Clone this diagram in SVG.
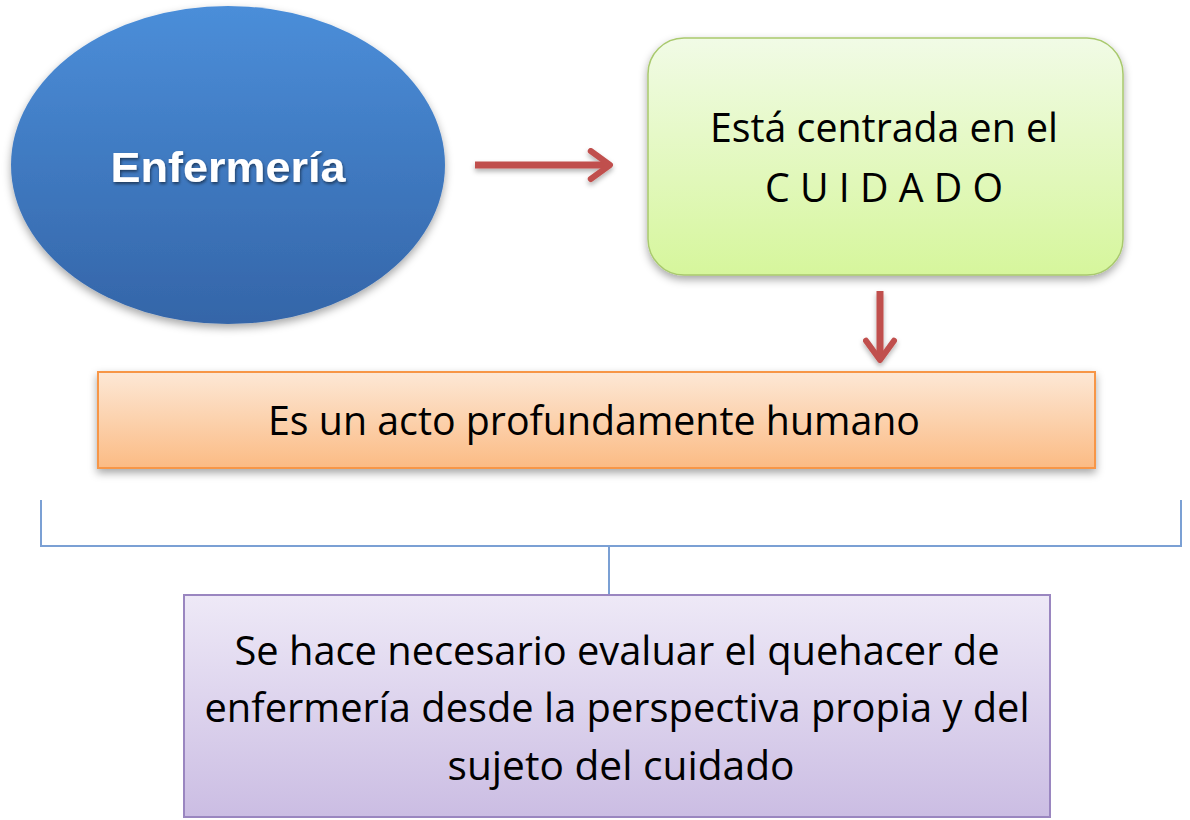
<svg xmlns="http://www.w3.org/2000/svg" width="1190" height="820" viewBox="0 0 1190 820">
<defs>
<linearGradient id="gBlue" x1="0" y1="0" x2="0" y2="1"><stop offset="0" stop-color="#4b8ed9"/><stop offset="1" stop-color="#3465a8"/></linearGradient>
<linearGradient id="gGreen" x1="0" y1="0" x2="0" y2="1"><stop offset="0" stop-color="#f1fbe6"/><stop offset="1" stop-color="#d6f69c"/></linearGradient>
<linearGradient id="gOrange" x1="0" y1="0" x2="0" y2="1"><stop offset="0" stop-color="#fde8d6"/><stop offset="1" stop-color="#fbbb84"/></linearGradient>
<linearGradient id="gPurple" x1="0" y1="0" x2="0" y2="1"><stop offset="0" stop-color="#eee9f7"/><stop offset="1" stop-color="#cbbde3"/></linearGradient>
<filter id="sh" x="-10%" y="-10%" width="120%" height="130%"><feDropShadow dx="0" dy="4" stdDeviation="4" flood-color="#000" flood-opacity="0.35"/></filter>
<filter id="ash" filterUnits="userSpaceOnUse" x="0" y="0" width="1190" height="820"><feDropShadow dx="0" dy="3" stdDeviation="2.5" flood-color="#000" flood-opacity="0.3"/></filter>
<filter id="tsh" x="-10%" y="-20%" width="120%" height="150%"><feDropShadow dx="1" dy="2" stdDeviation="1.5" flood-color="#000" flood-opacity="0.5"/></filter>
<marker id="ah" viewBox="0 0 10 10" refX="7" refY="5" markerWidth="5" markerHeight="5" orient="auto" markerUnits="strokeWidth"><path d="M1.5,1 L7,5 L1.5,9" fill="none" stroke="#c0504d" stroke-width="1.7" stroke-linecap="round" stroke-linejoin="round"/></marker>
<style>
.t{font-family:"Open Sans","Liberation Sans",sans-serif;font-size:40px;fill:#000;text-anchor:middle}
.arr{stroke:#c0504d;stroke-width:7;fill:none}
.br{stroke:#7ba0d4;stroke-width:2;fill:none}
</style>
</defs>
<g id="connectors">
<g filter="url(#ash)">
<line class="arr" x1="475" y1="165" x2="610" y2="165" marker-end="url(#ah)"/>
<line class="arr" x1="880" y1="291" x2="880" y2="360" marker-end="url(#ah)"/>
</g>
<path class="br" d="M41,500 V546 H1181 V500"/>
<line class="br" x1="609" y1="546" x2="609" y2="595"/>
</g>
<g id="enfermeria">
<ellipse cx="228" cy="165" rx="217" ry="159" fill="url(#gBlue)" filter="url(#sh)"/>
<text x="228" y="182" font-family="'Liberation Sans',Arial,sans-serif" font-weight="bold" font-size="42" fill="#fff" text-anchor="middle" filter="url(#tsh)" textLength="235" lengthAdjust="spacingAndGlyphs">Enfermería</text>
</g>
<g id="cuidado">
<rect x="648" y="38" width="475" height="237" rx="36" fill="url(#gGreen)" stroke="#a9c96e" stroke-width="1.5" filter="url(#sh)"/>
<text class="t" x="884" y="142" textLength="348" lengthAdjust="spacingAndGlyphs">Está centrada en el</text>
<text class="t" x="884" y="202" textLength="238" lengthAdjust="spacingAndGlyphs">C U I D A D O</text>
</g>
<g id="humano">
<rect x="98" y="372" width="997" height="96" fill="url(#gOrange)" stroke="#f79646" stroke-width="2" filter="url(#sh)"/>
<text class="t" x="594" y="435" textLength="652" lengthAdjust="spacingAndGlyphs">Es un acto profundamente humano</text>
</g>
<g id="evaluar">
<rect x="184" y="595" width="866" height="222" fill="url(#gPurple)" stroke="#9a86c0" stroke-width="2"/>
<text class="t" x="617" y="665" textLength="765" lengthAdjust="spacingAndGlyphs">Se hace necesario evaluar el quehacer de</text>
<text class="t" x="617" y="722" textLength="825" lengthAdjust="spacingAndGlyphs">enfermería desde la perspectiva propia y del</text>
<text class="t" x="621" y="780" textLength="347" lengthAdjust="spacingAndGlyphs">sujeto del cuidado</text>
</g>
</svg>
